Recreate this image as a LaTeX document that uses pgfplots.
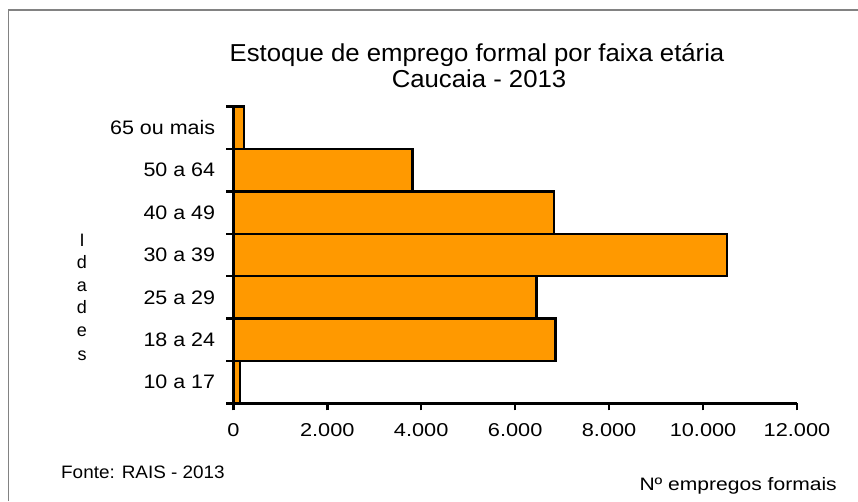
\documentclass[border=0pt]{standalone}
\usepackage{pgfplots}
\pgfplotsset{compat=1.18}
\usepackage{fontspec}
\setmainfont{Liberation Sans}
\usepackage{graphicx}
\definecolor{barorange}{RGB}{255,153,0}
\definecolor{framegray}{RGB}{130,130,130}
\begin{document}
\begin{tikzpicture}[x=1pt,y=1pt]
\useasboundingbox (0,0) rectangle (858,501);
\draw[framegray, line width=1.5pt] (8.5,0) -- (8.5,491) -- (858,491);
\begin{axis}[
  at={(233.3pt,97.7pt)}, anchor=south west,
  scale only axis, width=563.7pt, height=296.6pt,
  xbar, bar width=42.4pt,
  xmin=0, xmax=12000, ymin=-0.5, ymax=6.5,
  axis x line*=bottom, axis y line*=left,
  axis line style={line width=3pt, black},
  clip=false, axis on top,
  scaled x ticks=false,
  xtick={0,2000,...,12000},
  ytick={0,...,6},
  yticklabels={{\scalebox{1.1}[1]{10 a 17}},{\scalebox{1.1}[1]{18 a 24}},{\scalebox{1.1}[1]{25 a 29}},{\scalebox{1.1}[1]{30 a 39}},{\scalebox{1.1}[1]{40 a 49}},{\scalebox{1.1}[1]{50 a 64}},{\scalebox{1.1}[1]{65 ou mais}}},
  minor ytick={-0.5,0.5,...,6.5},
  tick align=outside,
  major tick length=7pt, minor tick length=7pt,
  every tick/.style={black, line width=2.5pt},
  major y tick style={draw=none},
  xticklabel={\scalebox{1.17}[1]{\pgfmathprintnumber{\tick}}},
  /pgf/number format/.cd, 1000 sep={.}, assume math mode=true,
  /pgfplots/.cd,
  xticklabel style={font=\fontsize{18.6}{20}\selectfont, anchor=north, inner sep=0pt, yshift=-13pt},
  yticklabel style={font=\fontsize{19.5}{20}\selectfont, anchor=east, inner sep=0pt, xshift=-11pt},
]
\addplot[fill=barorange, draw=black, line width=2.5pt] coordinates {(142,0) (6864,1) (6459,2) (10505,3) (6828,4) (3811,5) (228,6)};
\end{axis}
\node[anchor=base, inner sep=0pt, font=\fontsize{24.5}{26}\selectfont] at (477,439.3) {\scalebox{1.05}[1]{Estoque de emprego formal por faixa etária}};
\node[anchor=base, inner sep=0pt, font=\fontsize{24.5}{26}\selectfont] at (479,413) {\scalebox{1.05}[1]{Caucaia - 2013}};
\node[anchor=base west, inner sep=0pt, font=\fontsize{18}{20}\selectfont] at (61,23) {\scalebox{1.05}[1]{Fonte: RAIS - 2013}};
\node[anchor=base east, inner sep=0pt, font=\fontsize{18}{20}\selectfont] at (837,11) {\scalebox{1.17}[1]{Nº empregos formais}};
\begin{scope}[every node/.style={anchor=base, inner sep=0pt, font=\fontsize{18}{20}\selectfont}]
\node at (82,254.3) {I};
\node at (82,233) {d};
\node at (82,209.3) {a};
\node at (82,188) {d};
\node at (82,164.3) {e};
\node at (82,141) {s};
\end{scope}
\end{tikzpicture}
\end{document}
